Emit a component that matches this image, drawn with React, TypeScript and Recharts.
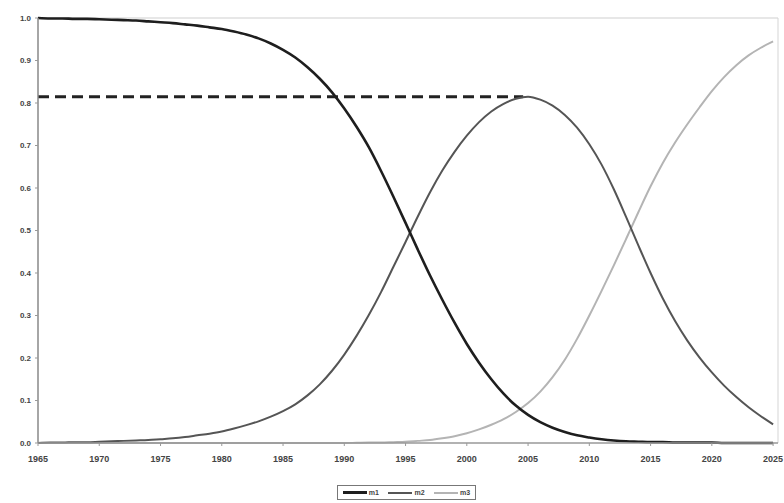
import React from "react";
import { LineChart, Line, XAxis, YAxis, ReferenceLine } from "recharts";

const years = [
  1965, 1966, 1967, 1968, 1969, 1970, 1971, 1972, 1973, 1974,
  1975, 1976, 1977, 1978, 1979, 1980, 1981, 1982, 1983, 1984,
  1985, 1986, 1987, 1988, 1989, 1990, 1991, 1992, 1993, 1994,
  1995, 1996, 1997, 1998, 1999, 2000, 2001, 2002, 2003, 2004,
  2005, 2006, 2007, 2008, 2009, 2010, 2011, 2012, 2013, 2014,
  2015, 2016, 2017, 2018, 2019, 2020, 2021, 2022, 2023, 2024, 2025,
];

const m1 = [
  1.0, 0.999, 0.999, 0.998, 0.998, 0.997, 0.996, 0.995, 0.994, 0.992,
  0.99, 0.988, 0.985, 0.982, 0.978, 0.974, 0.968, 0.961, 0.952, 0.94,
  0.925, 0.907, 0.884, 0.857, 0.825, 0.787, 0.744, 0.696, 0.64, 0.58,
  0.518, 0.455, 0.394, 0.337, 0.283, 0.233, 0.189, 0.15, 0.116, 0.088,
  0.066, 0.049, 0.036, 0.026, 0.018, 0.013, 0.009, 0.006, 0.004, 0.003,
  0.002, 0.002, 0.001, 0.001, 0.001, 0.001, 0.0, 0.0, 0.0, 0.0, 0.0,
];

const m2 = [
  0.0, 0.001, 0.001, 0.002, 0.002, 0.003, 0.004, 0.005, 0.006, 0.007,
  0.009, 0.011, 0.014, 0.018, 0.022, 0.027, 0.034, 0.042, 0.051, 0.062,
  0.075, 0.091, 0.112, 0.138, 0.17, 0.208, 0.252, 0.301, 0.355, 0.414,
  0.473, 0.533, 0.59, 0.641, 0.685, 0.723, 0.755, 0.78, 0.798, 0.81,
  0.815, 0.808, 0.794, 0.772, 0.742, 0.703, 0.655, 0.597, 0.532, 0.465,
  0.4, 0.34, 0.287, 0.241, 0.201, 0.166, 0.135, 0.108, 0.084, 0.063, 0.044,
];

const m3 = [
  0.0, 0.0, 0.0, 0.0, 0.0, 0.0, 0.0, 0.0, 0.0, 0.0,
  0.0, 0.0, 0.0, 0.0, 0.0, 0.0, 0.0, 0.0, 0.0, 0.0,
  0.0, 0.0, 0.0, 0.0, 0.0, 0.0, 0.0005, 0.001, 0.001, 0.002,
  0.003, 0.005, 0.007, 0.011, 0.016, 0.023, 0.032, 0.043, 0.056, 0.073,
  0.094, 0.121, 0.155, 0.196, 0.245, 0.3, 0.358, 0.418, 0.48, 0.543,
  0.604, 0.659, 0.707, 0.75, 0.79, 0.828, 0.861, 0.889, 0.912, 0.93, 0.945,
];

const xTicks = [1965, 1970, 1975, 1980, 1985, 1990, 1995, 2000, 2005, 2010, 2015, 2020, 2025];
const yTicks = [0, 0.1, 0.2, 0.3, 0.4, 0.5, 0.6, 0.7, 0.8, 0.9, 1.0];
const peakLevel = 0.815;
const peakYear = 2004.6;

const data = years.map((y, i) => ({ year: y, m1: m1[i], m2: m2[i], m3: m3[i] }));

const font = "Liberation Sans, Arial, sans-serif";
const yTickStyle = { fontFamily: font, fontSize: 8, fontWeight: 700, fill: "#444" };
const xTickStyle = { fontFamily: font, fontSize: 9, fontWeight: 700, fill: "#444" };

export default function App() {
  return (
    <div style={{ position: "absolute", left: 0, top: 0, width: 784, height: 503, background: "#fff" }}>
      <LineChart width={784} height={503} data={data} margin={{ top: 18, right: 6, bottom: 35, left: 0 }}>
        <XAxis
          dataKey="year"
          type="number"
          domain={[1965, 2025.4]}
          ticks={xTicks}
          allowDataOverflow
          height={25}
          tick={xTickStyle}
          tickLine={{ stroke: "#999" }}
          tickSize={3}
          tickMargin={10}
          axisLine={{ stroke: "#999", strokeWidth: 1.5 }}
          interval={0}
        />
        <YAxis
          type="number"
          domain={[0, 1]}
          ticks={yTicks}
          width={38}
          tick={yTickStyle}
          tickFormatter={(v: number) => v.toFixed(1)}
          tickLine={{ stroke: "#999" }}
          tickSize={3}
          tickMargin={4}
          axisLine={{ stroke: "#888", strokeWidth: 1.5 }}
          interval={0}
        />
        <ReferenceLine y={1} stroke="#cfcfcf" strokeWidth={1} />
        <ReferenceLine x={2025.4} stroke="#d5d5d5" strokeWidth={1} />
        <ReferenceLine
          segment={[{ x: 1965, y: peakLevel }, { x: peakYear, y: peakLevel }]}
          stroke="#222"
          strokeWidth={3}
          strokeDasharray="11 6"
          ifOverflow="visible"
        />
        <Line type="monotone" dataKey="m3" stroke="#b4b4b4" strokeWidth={2} dot={false} isAnimationActive={false} />
        <Line type="monotone" dataKey="m2" stroke="#555" strokeWidth={2} dot={false} isAnimationActive={false} />
        <Line type="monotone" dataKey="m1" stroke="#1e1e1e" strokeWidth={2.6} dot={false} isAnimationActive={false} />
      </LineChart>
      <div
        style={{
          position: "absolute",
          left: 337,
          top: 485,
          width: 139,
          height: 15,
          border: "1px solid #777",
          boxSizing: "border-box",
          display: "flex",
          alignItems: "center",
          justifyContent: "space-around",
          fontFamily: font,
          fontSize: 7,
          fontWeight: 700,
          color: "#444",
        }}
      >
        {[
          { name: "m1", color: "#1e1e1e", w: 3 },
          { name: "m2", color: "#555", w: 2 },
          { name: "m3", color: "#b4b4b4", w: 2 },
        ].map((s) => (
          <span key={s.name} style={{ display: "flex", alignItems: "center" }}>
            <span style={{ display: "inline-block", width: 24, height: s.w, background: s.color, marginRight: 2 }} />
            {s.name}
          </span>
        ))}
      </div>
    </div>
  );
}
